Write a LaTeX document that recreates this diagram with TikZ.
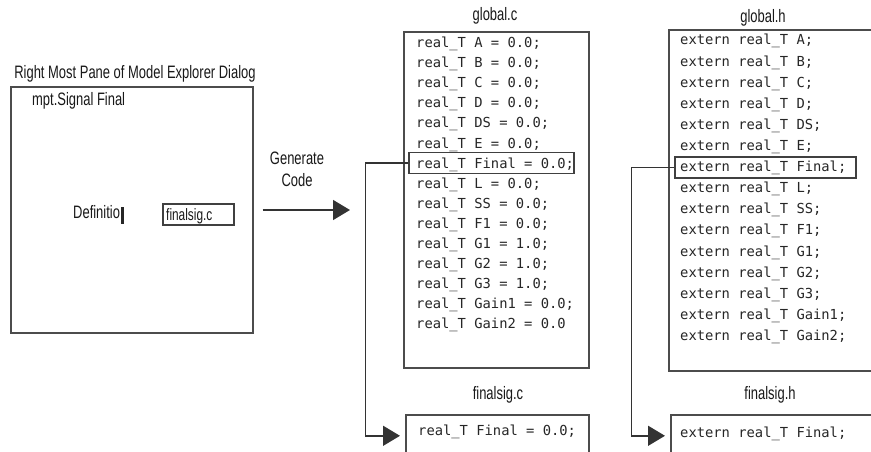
\documentclass[tikz,border=0pt]{standalone}
\usepackage{fontspec}
\setmainfont{Liberation Sans}
\newfontfamily\labfont[FakeStretch=0.72]{Liberation Sans}
\newfontfamily\codefont{DejaVu Sans Mono}
\usetikzlibrary{arrows.meta}
\begin{document}
\begin{tikzpicture}[x=1pt,y=-1pt,
  lab/.style={font=\labfont\fontsize{18}{22}\selectfont, text=black!90, inner sep=0},
  code/.style={font=\codefont\fontsize{13.8}{16}\selectfont, text=black!85, inner sep=0, anchor=base west},
  box/.style={draw=black!70, line width=1.6pt, inner sep=0, rectangle},
  hbox/.style={draw=black!75, line width=1.3pt, inner sep=0, rectangle},
  conn/.style={draw=black!80, line width=1.4pt},
  arr/.style={conn, -{Triangle[length=17pt,width=20pt]}}]
\fill[white] (0,0) rectangle (871,452);
\useasboundingbox (0,0) rectangle (871,452);

% left pane
\node[box, anchor=north west, minimum width=242pt, minimum height=246pt] (pane) at (10,86) {};
\node[lab, anchor=base] (panetitle) at (135,79) {Right Most Pane of Model Explorer Dialog};
\node[lab, anchor=base west] (sig) at (32,106) {mpt.Signal Final};
\node[lab, anchor=base west] (defn) at (73,218) {Definitio};
\node[fill=black!85, minimum width=3.5pt, minimum height=17pt, inner sep=0] (caret) at ([xshift=2.5pt,yshift=3pt]defn.base east) {};
\node[hbox, minimum width=71pt, minimum height=21pt] (fsbox) at (198.5,214.5) {};
\node[lab, anchor=base west, font=\labfont\fontsize{16.5}{18}\selectfont] (fstxt) at (166,220) {finalsig.c};

% generate code
\node[lab, align=center] (gen) at (297,169) {Generate\\Code};
\coordinate (ay) at (0,210);

% global.c
\node[box, anchor=north west, minimum width=185pt, minimum height=336pt] (gc) at (403,31) {};
\node[lab, anchor=base] (gctitle) at (495,21) {global.c};
\foreach \cl [count=\i from 0] in {real\_T A = 0.0;, real\_T B = 0.0;, real\_T C = 0.0;, real\_T D = 0.0;, real\_T DS = 0.0;, real\_T E = 0.0;, real\_T Final = 0.0;, real\_T L = 0.0;, real\_T SS = 0.0;, real\_T F1 = 0.0;, real\_T G1 = 1.0;, real\_T G2 = 1.0;, real\_T G3 = 1.0;, real\_T Gain1 = 0.0;, real\_T Gain2 = 0.0}
  \node[code] (gcl\i) at (416,{48+20*\i}) {\cl};
\node[hbox, minimum width=165pt, minimum height=21pt] (gcf) at (491.5,163) {};

\draw[arr, shorten <=9pt, shorten >=53pt] (pane.east |- ay) -- (gc.west |- ay);

% finalsig.c
\node[box, anchor=north west, minimum width=183pt, minimum height=42pt] (fsc) at (405,414) {};
\node[lab, anchor=base] (fsctitle) at (498,399) {finalsig.c};
\node[code] (fscl) at (418,435) {real\_T Final = 0.0;};
\draw[arr, shorten >=5pt] (gcf.west) -- ++(-43,0) |- (fsc.west);

% global.h
\node[box, anchor=north west, minimum width=212pt, minimum height=341pt] (gh) at (668,29) {};
\node[lab, anchor=base] (ghtitle) at (763,23) {global.h};
\foreach \cl [count=\i from 0] in {extern real\_T A;, extern real\_T B;, extern real\_T C;, extern real\_T D;, extern real\_T DS;, extern real\_T E;, extern real\_T Final;, extern real\_T L;, extern real\_T SS;, extern real\_T F1;, extern real\_T G1;, extern real\_T G2;, extern real\_T G3;, extern real\_T Gain1;, extern real\_T Gain2;}
  \node[code] (ghl\i) at (680,{45+21.1*\i}) {\cl};
\node[hbox, minimum width=181pt, minimum height=21pt] (ghf) at (765.5,167.6) {};

% finalsig.h
\node[box, anchor=north west, minimum width=212pt, minimum height=42pt] (fsh) at (670,414) {};
\node[lab, anchor=base] (fshtitle) at (770,399) {finalsig.h};
\node[code] (fshl) at (680,437) {extern real\_T Final;};
\draw[arr, shorten >=5pt] (ghf.west) -- ++(-43,0) |- (fsh.west);
\end{tikzpicture}
\end{document}
